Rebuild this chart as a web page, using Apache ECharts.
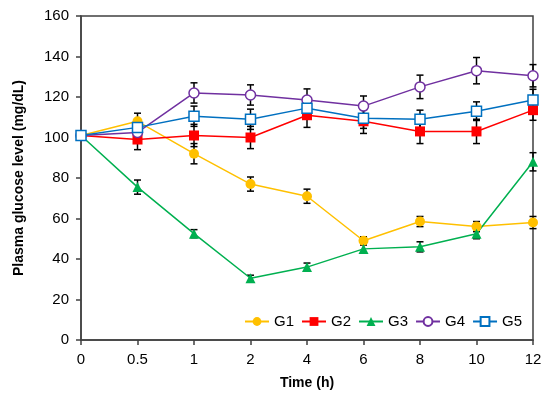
<!DOCTYPE html>
<html><head><meta charset="utf-8">
<script src="https://cdn.jsdelivr.net/npm/echarts@6/dist/echarts.min.js"></script>
<style>html,body{margin:0;padding:0;background:#fff}#c{width:550px;height:398px}</style>
</head><body><div id="c"></div>
<script>
const categories = ['0','0.5','1','2','4','6','8','10','12'];
const yTicks = [0,20,40,60,80,100,120,140,160];
const names = ['G1','G2','G3','G4','G5'];
const g1 = [101,108,92,77,71,49,58.5,56,58];
const g2 = [101,99,101,100,111,108,103,103,113.5];
const g3 = [101,75.5,52.5,30.5,36,45,46,52.5,88];
const g4 = [101,102.5,122,121,118.5,115.5,125,133,130.5];
const g5 = [101,105,110.5,109,114.5,109.5,109,113,118.5];
const e1 = [0,4,5,3.5,3.5,2,2.5,2.5,3];
const e2 = [0,5,5.5,5.5,6,6,6,6,5];
const e3 = [0,3.5,2,1.5,2,2,2.5,2.5,4.5];
const e4 = [0,0,5,5,5.5,5,5.8,6.5,5.5];
const e5 = [0,3,5,5,5,5,4.5,4.6,5.3];
const values = [g1,g2,g3,g4,g5];
const errors = [e1,e2,e3,e4,e5];
const colors = ['#FFC000','#FF0000','#00B050','#7030A0','#0070C0'];
const symbols = ['circle','rect','triangle','emptyCircle','emptyRect'];
const sizes = [10,10,10,10,10];

const chart = echarts.init(document.getElementById('c'));
const series = [];
values.forEach((vals, i) => {
  series.push({
    type: 'custom', silent: true, z: 1,
    data: vals.map((v, j) => [j, v - errors[i][j], v + errors[i][j]]),
    renderItem: function (params, api) {
      const x = api.value(0);
      const lo = api.coord([x, api.value(1)]);
      const hi = api.coord([x, api.value(2)]);
      const w = 3.5;
      const st = {stroke: '#000', lineWidth: 1.5};
      return {type: 'group', children: [
        {type: 'line', shape: {x1: lo[0], y1: lo[1], x2: hi[0], y2: hi[1]}, style: st},
        {type: 'line', shape: {x1: lo[0]-w, y1: lo[1], x2: lo[0]+w, y2: lo[1]}, style: st},
        {type: 'line', shape: {x1: hi[0]-w, y1: hi[1], x2: hi[0]+w, y2: hi[1]}, style: st}
      ]};
    }
  });
});
values.forEach((vals, i) => {
  const hollow = symbols[i].startsWith('empty');
  series.push({
    name: names[i], type: 'line', z: 2,
    data: vals,
    symbol: hollow ? symbols[i].replace('empty','').toLowerCase() : symbols[i],
    symbolSize: sizes[i],
    lineStyle: {color: colors[i], width: 1.5},
    itemStyle: {color: hollow ? '#fff' : colors[i], borderColor: colors[i], borderWidth: hollow ? 1.5 : 0},
    emphasis: {disabled: true},
    animation: false
  });
});

chart.setOption({
  animation: false,
  textStyle: {fontFamily: 'Liberation Sans, Arial, sans-serif'},
  grid: {left: 81, right: 17, top: 16, bottom: 58, show: true, borderColor: '#404040', borderWidth: 1.5, backgroundColor: 'transparent'},
  legend: {
    data: names.map((n, i) => ({name: n})),
    left: 244, top: 314, padding: 0, itemWidth: 24, itemHeight: 11, itemGap: 7,
    textStyle: {fontSize: 15, color: '#000', fontFamily: 'Liberation Sans, Arial, sans-serif'}
  },
  xAxis: {
    type: 'category', data: categories, boundaryGap: false,
    name: 'Time (h)', nameLocation: 'middle', nameGap: 36,
    nameTextStyle: {fontSize: 14, fontWeight: 'bold', color: '#000'},
    axisLine: {lineStyle: {color: '#404040', width: 1.5}},
    axisTick: {show: true, inside: false, length: 5, alignWithLabel: true, lineStyle: {color: '#404040', width: 1.5}},
    axisLabel: {fontSize: 15, color: '#000', margin: 12},
    splitLine: {show: false}
  },
  yAxis: {
    type: 'value', min: yTicks[0], max: yTicks[yTicks.length-1], interval: 20,
    name: 'Plasma glucose level (mg/dL)', nameLocation: 'middle', nameGap: 55,
    nameTextStyle: {fontSize: 14, fontWeight: 'bold', color: '#000'},
    axisLine: {show: true, lineStyle: {color: '#404040', width: 1.5}},
    axisTick: {show: true, inside: false, length: 5, lineStyle: {color: '#404040', width: 1.5}},
    axisLabel: {fontSize: 15, color: '#000', margin: 12},
    splitLine: {show: false}
  },
  series: series
});
</script></body></html>
